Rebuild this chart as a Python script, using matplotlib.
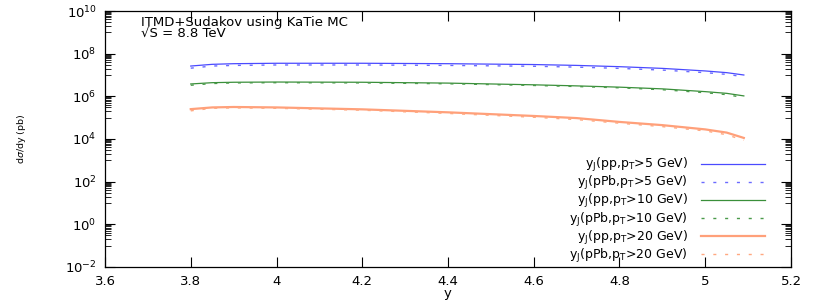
import numpy as np
import matplotlib
matplotlib.use("Agg")
import matplotlib.pyplot as plt
from matplotlib.ticker import FixedLocator, FuncFormatter, LogFormatterSciNotation, NullFormatter

# rapidity values
y = [3.80, 3.85, 3.90, 4.00, 4.20, 4.40, 4.60, 4.70, 4.80, 4.90, 5.00, 5.05, 5.09]

# log10 of dsigma/dy (pb)
log_pp_5   = [7.42, 7.50, 7.53, 7.55, 7.55, 7.53, 7.49, 7.45, 7.39, 7.31, 7.19, 7.11, 7.00]
log_pPb_5  = [7.32, 7.42, 7.45, 7.47, 7.47, 7.45, 7.41, 7.37, 7.31, 7.23, 7.11, 7.03, 6.92]
log_pp_10  = [6.58, 6.64, 6.66, 6.67, 6.66, 6.62, 6.54, 6.49, 6.43, 6.35, 6.22, 6.14, 6.02]
log_pPb_10 = [6.52, 6.60, 6.63, 6.64, 6.63, 6.59, 6.51, 6.46, 6.40, 6.31, 6.17, 6.08, 5.94]
log_pp_20  = [5.40, 5.48, 5.50, 5.48, 5.39, 5.25, 5.08, 4.98, 4.80, 4.65, 4.45, 4.30, 4.05]
log_pPb_20 = [5.32, 5.44, 5.46, 5.44, 5.35, 5.20, 5.02, 4.91, 4.74, 4.58, 4.38, 4.20, 3.94]

labels = [r"y$_\mathregular{J}$(pp,p$_\mathregular{T}$>5 GeV)",
          r"y$_\mathregular{J}$(pPb,p$_\mathregular{T}$>5 GeV)",
          r"y$_\mathregular{J}$(pp,p$_\mathregular{T}$>10 GeV)",
          r"y$_\mathregular{J}$(pPb,p$_\mathregular{T}$>10 GeV)",
          r"y$_\mathregular{J}$(pp,p$_\mathregular{T}$>20 GeV)",
          r"y$_\mathregular{J}$(pPb,p$_\mathregular{T}$>20 GeV)"]

xticks = [3.6, 3.8, 4.0, 4.2, 4.4, 4.6, 4.8, 5.0, 5.2]
yticks_exp = [-2, 0, 2, 4, 6, 8, 10]

series = [log_pp_5, log_pPb_5, log_pp_10, log_pPb_10, log_pp_20, log_pPb_20]
colors = ["#4a4aff", "#6b6bff", "#3a8f3a", "#4a9a4a", "#ffa07a", "#ffa880"]
styles = ["solid", "dashed", "solid", "dashed", "solid", "dashed"]

plt.rcParams['font.family'] = ['DejaVu Sans']
plt.rcParams['mathtext.fontset'] = 'dejavusans'

fig = plt.figure(figsize=(8.3, 3.0), dpi=100)
ax = fig.add_axes([105/830, 1 - 267/300, (791-105)/830, (267-11)/300])

for s, c, ls, lab in zip(series, colors, styles, labels):
    vals = np.power(10.0, np.array(s))
    if ls == "dashed":
        ax.plot(y, vals, color=c, lw=1.0, linestyle=(0, (2.2, 6.3)), label=lab)
    else:
        lw = 1.6 if c == "#ffa07a" else 0.9
        ax.plot(y, vals, color=c, lw=lw, linestyle="-", label=lab)

ax.set_yscale("log")
ax.set_xlim(3.6, 5.2)
ax.set_ylim(1e-2, 1e10)

ax.yaxis.set_major_locator(FixedLocator([10.0**e for e in yticks_exp]))
ax.yaxis.set_major_formatter(LogFormatterSciNotation())
minor = [m * 10.0**e for e in range(-1, 10, 2) for m in range(1, 10)]
ax.yaxis.set_minor_locator(FixedLocator(minor))
ax.yaxis.set_minor_formatter(NullFormatter())
ax.xaxis.set_major_locator(FixedLocator(xticks))
ax.xaxis.set_major_formatter(FuncFormatter(lambda v, p: "%g" % v))

ax.tick_params(axis='both', which='major', direction='in', length=7, width=0.8,
               top=True, right=True, labelsize=9.5, pad=6)
ax.tick_params(axis='y', which='minor', direction='in', length=4, width=0.6,
               left=True, right=True)
ax.tick_params(axis='x', which='minor', bottom=False, top=False)
for sp in ax.spines.values():
    sp.set_linewidth(0.9)

ax.set_xlabel("y", fontsize=9.5, labelpad=-1)
ax.set_ylabel(r"d$\sigma$/dy (pb)", fontsize=6.8)
ax.yaxis.set_label_coords((28 - 105) / 686, 0.5)

ax.text(0.053, 0.982, "ITMD+Sudakov using KaTie MC", transform=ax.transAxes,
        fontsize=9.5, va='top', ha='left')
ax.text(0.053, 0.937, "\u221aS = 8.8 TeV", transform=ax.transAxes,
        fontsize=9.5, va='top', ha='left')

leg = ax.legend(loc='lower right', frameon=False, markerfirst=False,
                fontsize=9, handlelength=5.1, handletextpad=1.1,
                labelspacing=0.0, borderpad=0.2, borderaxespad=0.0,
                bbox_to_anchor=(0.966, 0.0))
for t in leg.get_texts():
    t.set_ha('right')

fig.savefig("out.png", dpi=100)
